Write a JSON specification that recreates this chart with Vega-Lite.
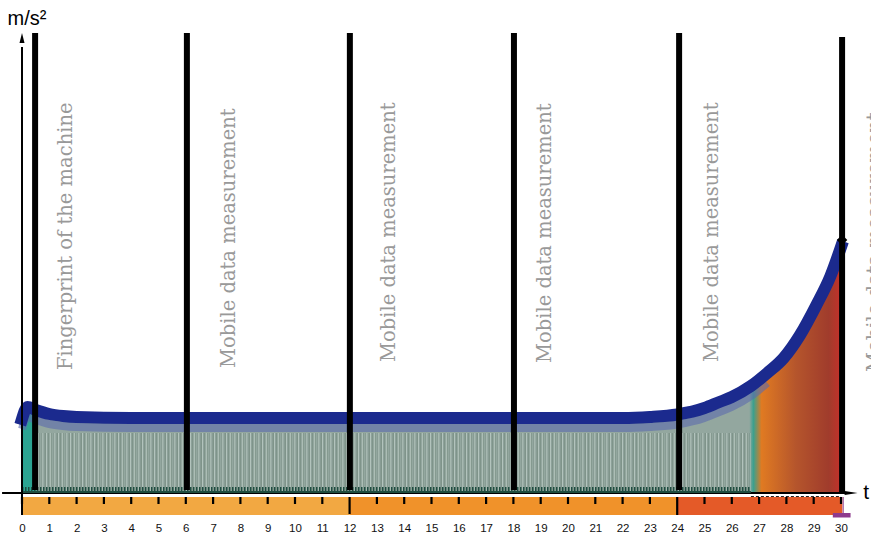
{
  "$schema": "https://vega.github.io/schema/vega-lite/v6.json",
  "autosize": {"type": "none"},
  "width": 819,
  "height": 536,
  "padding": {"left": 22, "top": 0, "right": 30, "bottom": 0},
  "background": "white",
  "config": {"view": {"stroke": "transparent"}},
  "datasets": {
    "envelope": [
      {"t": 0, "v": 7.4}, {"t": 0.2, "v": 8.6}, {"t": 0.5, "v": 8.3}, {"t": 1, "v": 7.9},
      {"t": 1.5, "v": 7.7}, {"t": 2, "v": 7.6}, {"t": 4, "v": 7.5}, {"t": 8, "v": 7.5},
      {"t": 12, "v": 7.5}, {"t": 16, "v": 7.5}, {"t": 20, "v": 7.5}, {"t": 22, "v": 7.5},
      {"t": 23, "v": 7.6}, {"t": 24, "v": 7.85}, {"t": 25, "v": 8.5}, {"t": 25.5, "v": 9.05},
      {"t": 26, "v": 9.6}, {"t": 26.7, "v": 10.7}, {"t": 27.3, "v": 12.0}, {"t": 27.9, "v": 13.5},
      {"t": 28.5, "v": 15.8}, {"t": 29.1, "v": 18.8}, {"t": 29.6, "v": 21.6}, {"t": 30, "v": 24.6}
    ],
    "phases": [
      {"start": 0, "end": 12, "top": -0.4, "bot": -2.2, "phase": "A"},
      {"start": 12, "end": 24, "top": -0.4, "bot": -2.2, "phase": "B"},
      {"start": 24, "end": 30.05, "top": -0.4, "bot": -2.2, "phase": "C"}
    ],
    "ticks": [
      {"t": 0, "hi": -0.4, "lo": -1.1}, {"t": 1, "hi": -0.4, "lo": -1.1}, {"t": 2, "hi": -0.4, "lo": -1.1},
      {"t": 3, "hi": -0.4, "lo": -1.1}, {"t": 4, "hi": -0.4, "lo": -1.1}, {"t": 5, "hi": -0.4, "lo": -1.1},
      {"t": 6, "hi": -0.4, "lo": -1.1}, {"t": 7, "hi": -0.4, "lo": -1.1}, {"t": 8, "hi": -0.4, "lo": -1.1},
      {"t": 9, "hi": -0.4, "lo": -1.1}, {"t": 10, "hi": -0.4, "lo": -1.1}, {"t": 11, "hi": -0.4, "lo": -1.1},
      {"t": 12, "hi": -0.4, "lo": -2.1}, {"t": 13, "hi": -0.4, "lo": -1.1}, {"t": 14, "hi": -0.4, "lo": -1.1},
      {"t": 15, "hi": -0.4, "lo": -1.1}, {"t": 16, "hi": -0.4, "lo": -1.1}, {"t": 17, "hi": -0.4, "lo": -1.1},
      {"t": 18, "hi": -0.4, "lo": -1.1}, {"t": 19, "hi": -0.4, "lo": -1.1}, {"t": 20, "hi": -0.4, "lo": -1.1},
      {"t": 21, "hi": -0.4, "lo": -1.1}, {"t": 22, "hi": -0.4, "lo": -1.1}, {"t": 23, "hi": -0.4, "lo": -1.1},
      {"t": 24, "hi": -0.4, "lo": -2.2}, {"t": 25, "hi": -0.4, "lo": -1.1}, {"t": 26, "hi": -0.4, "lo": -1.1},
      {"t": 27, "hi": -0.4, "lo": -1.1}, {"t": 28, "hi": -0.4, "lo": -1.1}, {"t": 29, "hi": -0.4, "lo": -1.1},
      {"t": 30, "hi": -0.4, "lo": -1.1}
    ],
    "dividers": [
      {"t": 0.48, "top": 46, "bot": 0.3},
      {"t": 6.04, "top": 46, "bot": 0.3},
      {"t": 12.01, "top": 46, "bot": 0.3},
      {"t": 18.02, "top": 46, "bot": 0.3},
      {"t": 24.07, "top": 46, "bot": 0.3},
      {"t": 30.04, "top": 45.6, "bot": 0}
    ],
    "labels": [
      {"t": 1.83, "y": 12.3, "label": "Fingerprint of the machine"},
      {"t": 7.8, "y": 12.5, "label": "Mobile data measurement"},
      {"t": 13.66, "y": 13.1, "label": "Mobile data measurement"},
      {"t": 19.36, "y": 13.0, "label": "Mobile data measurement"},
      {"t": 25.48, "y": 13.1, "label": "Mobile data measurement"},
      {"t": 31.47, "y": 12.1, "label": "Mobile data measurement"}
    ]
  },
  "encoding": {
    "x": {
      "field": "t",
      "type": "quantitative",
      "scale": {"domain": [0, 30], "nice": false, "zero": false},
      "axis": {
        "values": [0, 1, 2, 3, 4, 5, 6, 7, 8, 9, 10, 11, 12, 13, 14, 15, 16, 17, 18, 19, 20, 21, 22, 23, 24, 25, 26, 27, 28, 29, 30],
        "format": "d",
        "title": null,
        "domain": false,
        "ticks": false,
        "tickSize": 0,
        "grid": false,
        "offset": -14,
        "labelPadding": 0,
        "labelFont": "Liberation Sans",
        "labelFontSize": 11.5,
        "labelColor": "#111111",
        "labelFlush": false,
        "labelOverlap": false
      }
    }
  },
  "layer": [
    {
      "data": {"name": "phases"},
      "mark": {"type": "rect"},
      "encoding": {
        "x": {"field": "start", "type": "quantitative"},
        "x2": {"field": "end"},
        "y": {"field": "top", "type": "quantitative", "scale": {"domain": [-4.3, 49.3], "nice": false, "zero": false}, "axis": null},
        "y2": {"field": "bot"},
        "color": {
          "field": "phase",
          "type": "nominal",
          "scale": {"domain": ["A", "B", "C"], "range": ["#F2A842", "#F0922A", "#E45A28"]},
          "legend": null
        }
      }
    },
    {
      "data": {"name": "envelope"},
      "mark": {
        "type": "area",
        "interpolate": "monotone",
        "color": {
          "gradient": "linear",
          "x1": 0, "x2": 1, "y1": 0, "y2": 0,
          "stops": [
            {"offset": 0, "color": "#2ba492"},
            {"offset": 0.016, "color": "#2ba492"},
            {"offset": 0.019, "color": "#93a79f"},
            {"offset": 0.888, "color": "#93a79f"},
            {"offset": 0.893, "color": "#3aa08e"},
            {"offset": 0.903, "color": "#e07a22"},
            {"offset": 0.945, "color": "#b5552c"},
            {"offset": 0.985, "color": "#a03c2c"},
            {"offset": 1, "color": "#c4302a"}
          ]
        }
      },
      "encoding": {
        "y": {"field": "v", "type": "quantitative"}
      }
    },
    {
      "data": {"values": [{"a": 0.5, "b": 26.7, "y": 3.1}]},
      "mark": {"type": "rule", "strokeWidth": 58, "strokeDash": [1, 2], "color": "#3f554b", "opacity": 0.35},
      "encoding": {
        "x": {"field": "a", "type": "quantitative"},
        "x2": {"field": "b"},
        "y": {"field": "y", "type": "quantitative"}
      }
    },
    {
      "data": {"values": [{"a": 0.5, "b": 26.7, "y": 3.1}]},
      "mark": {"type": "rule", "strokeWidth": 58, "strokeDash": [1, 3], "strokeDashOffset": 1.5, "color": "#dcebe4", "opacity": 0.5},
      "encoding": {
        "x": {"field": "a", "type": "quantitative"},
        "x2": {"field": "b"},
        "y": {"field": "y", "type": "quantitative"}
      }
    },
    {
      "data": {"name": "envelope"},
      "transform": [{"filter": "datum.t <= 27.3"}],
      "mark": {"type": "line", "interpolate": "monotone", "strokeWidth": 8, "yOffset": 10, "color": "#5b6aae", "opacity": 0.6},
      "encoding": {
        "y": {"field": "v", "type": "quantitative"}
      }
    },
    {
      "data": {"name": "envelope"},
      "mark": {"type": "line", "interpolate": "monotone", "strokeWidth": 12, "strokeCap": "square", "color": "#1b2a8e"},
      "encoding": {
        "y": {"field": "v", "type": "quantitative"}
      }
    },
    {
      "data": {"values": [{"a": -0.73, "b": 30.3, "y": 0}]},
      "mark": {"type": "rule", "strokeWidth": 2, "color": "#000000"},
      "encoding": {
        "x": {"field": "a", "type": "quantitative"},
        "x2": {"field": "b"},
        "y": {"field": "y", "type": "quantitative"}
      }
    },
    {
      "data": {"values": [{"a": 0, "b": 26.7, "y": 0.35}]},
      "mark": {"type": "rule", "strokeWidth": 5, "strokeDash": [1.5, 1.5], "color": "#1f4d40"},
      "encoding": {
        "x": {"field": "a", "type": "quantitative"},
        "x2": {"field": "b"},
        "y": {"field": "y", "type": "quantitative"}
      }
    },
    {
      "data": {"values": [{"a": 0, "b": 26.7, "y": 0.1}]},
      "mark": {"type": "rule", "strokeWidth": 2, "color": "#1f4d40"},
      "encoding": {
        "x": {"field": "a", "type": "quantitative"},
        "x2": {"field": "b"},
        "y": {"field": "y", "type": "quantitative"}
      }
    },
    {
      "data": {"values": [{"a": 26.7, "b": 30, "y": -0.35}]},
      "mark": {"type": "rule", "strokeWidth": 1, "strokeDash": [3, 2], "color": "#222222"},
      "encoding": {
        "x": {"field": "a", "type": "quantitative"},
        "x2": {"field": "b"},
        "y": {"field": "y", "type": "quantitative"}
      }
    },
    {
      "data": {"name": "ticks"},
      "mark": {"type": "rule", "strokeWidth": 2.2, "color": "#000000"},
      "encoding": {
        "y": {"field": "hi", "type": "quantitative"},
        "y2": {"field": "lo"}
      }
    },
    {
      "data": {"values": [{"a": 29.7, "b": 30.35, "top": -2.0, "bot": -2.45}]},
      "mark": {"type": "rect", "color": "#8e3a8e"},
      "encoding": {
        "x": {"field": "a", "type": "quantitative"},
        "x2": {"field": "b"},
        "y": {"field": "top", "type": "quantitative"},
        "y2": {"field": "bot"}
      }
    },
    {
      "data": {"values": [{"t": 30.08, "top": -0.4, "bot": -2.2}]},
      "mark": {"type": "rule", "strokeWidth": 1, "color": "#8e3a8e"},
      "encoding": {
        "y": {"field": "top", "type": "quantitative"},
        "y2": {"field": "bot"}
      }
    },
    {
      "data": {"name": "dividers"},
      "mark": {"type": "rule", "strokeWidth": 6, "color": "#000000"},
      "encoding": {
        "y": {"field": "top", "type": "quantitative"},
        "y2": {"field": "bot"}
      }
    },
    {
      "data": {"values": [{"t": 0, "top": 44.6, "bot": -2.2}]},
      "mark": {"type": "rule", "strokeWidth": 2, "color": "#000000"},
      "encoding": {
        "y": {"field": "top", "type": "quantitative"},
        "y2": {"field": "bot"}
      }
    },
    {
      "data": {"values": [{"t": 0, "y": 45.5}]},
      "mark": {"type": "point", "shape": "M0,-1L0.5,1L-0.5,1Z", "size": 100, "filled": true, "color": "#000000", "opacity": 1},
      "encoding": {
        "y": {"field": "y", "type": "quantitative"}
      }
    },
    {
      "data": {"values": [{"t": 30.37, "y": 0}]},
      "mark": {"type": "point", "shape": "M1,0L-1,-0.3L-1,0.3Z", "size": 169, "filled": true, "color": "#000000", "opacity": 1},
      "encoding": {
        "y": {"field": "y", "type": "quantitative"}
      }
    },
    {
      "data": {"values": [{"t": 30.04, "y": 25.3}]},
      "mark": {"type": "point", "shape": "diamond", "size": 110, "filled": true, "color": "#000000", "opacity": 1},
      "encoding": {
        "y": {"field": "y", "type": "quantitative"}
      }
    },
    {
      "data": {"values": [{"t": 30.92, "y": 0, "label": "t"}]},
      "mark": {"type": "text", "font": "Liberation Sans", "fontSize": 21, "align": "center", "baseline": "middle", "color": "#000000"},
      "encoding": {
        "y": {"field": "y", "type": "quantitative"},
        "text": {"field": "label", "type": "nominal"}
      }
    },
    {
      "data": {"values": [{"t": 0.18, "y": 46.8, "label": "m/s²"}]},
      "mark": {"type": "text", "font": "Liberation Sans", "fontSize": 20, "align": "center", "baseline": "alphabetic", "color": "#000000"},
      "encoding": {
        "y": {"field": "y", "type": "quantitative"},
        "text": {"field": "label", "type": "nominal"}
      }
    },
    {
      "data": {"name": "labels"},
      "mark": {"type": "text", "font": "DejaVu Serif", "fontSize": 19.5, "angle": 270, "align": "left", "baseline": "alphabetic", "color": "#999999"},
      "encoding": {
        "y": {"field": "y", "type": "quantitative"},
        "text": {"field": "label", "type": "nominal"}
      }
    }
  ]
}
